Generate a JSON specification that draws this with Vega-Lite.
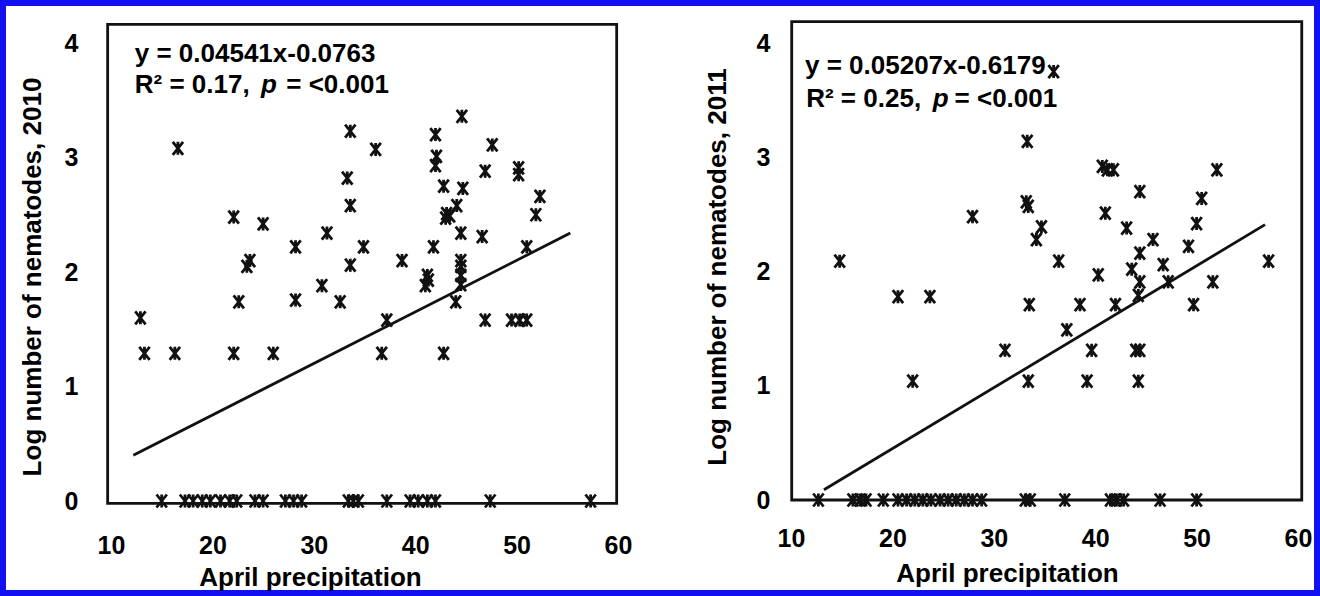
{
  "$schema": "https://vega.github.io/schema/vega-lite/v6.json",
  "width": 1320,
  "height": 596,
  "autosize": {"type": "none"},
  "padding": 0,
  "background": "white",
  "config": {
    "view": {"stroke": "#1010f0", "strokeWidth": 12},
    "font": "Liberation Sans",
    "axis": {
      "domain": false, "ticks": false, "grid": false,
      "labelFont": "Liberation Sans", "labelFontWeight": "bold", "labelFontSize": 25, "labelColor": "#000",
      "titleFont": "Liberation Sans", "titleFontWeight": "bold", "titleFontSize": 26, "titleColor": "#000",
      "labelOverlap": false, "labelFlush": false
    }
  },
  "datasets": {
    "p2010": [
      {"precip": 16.6, "lognem": 3.08}, {"precip": 33.6, "lognem": 3.23}, {"precip": 33.3, "lognem": 2.82}, {"precip": 33.6, "lognem": 2.58},
      {"precip": 22.1, "lognem": 2.48}, {"precip": 25.0, "lognem": 2.42}, {"precip": 31.3, "lognem": 2.34}, {"precip": 28.2, "lognem": 2.22},
      {"precip": 34.9, "lognem": 2.22}, {"precip": 23.7, "lognem": 2.10}, {"precip": 23.4, "lognem": 2.05}, {"precip": 33.6, "lognem": 2.06},
      {"precip": 30.8, "lognem": 1.88}, {"precip": 44.6, "lognem": 3.36}, {"precip": 42.0, "lognem": 3.20}, {"precip": 36.1, "lognem": 3.07},
      {"precip": 47.6, "lognem": 3.11}, {"precip": 42.1, "lognem": 3.01}, {"precip": 42.0, "lognem": 2.93}, {"precip": 46.9, "lognem": 2.88},
      {"precip": 50.2, "lognem": 2.91}, {"precip": 50.2, "lognem": 2.85}, {"precip": 42.8, "lognem": 2.75}, {"precip": 44.7, "lognem": 2.73},
      {"precip": 44.1, "lognem": 2.58}, {"precip": 43.1, "lognem": 2.51}, {"precip": 43.0, "lognem": 2.47}, {"precip": 43.4, "lognem": 2.49},
      {"precip": 52.3, "lognem": 2.66}, {"precip": 51.9, "lognem": 2.50}, {"precip": 44.5, "lognem": 2.34}, {"precip": 46.6, "lognem": 2.31},
      {"precip": 41.8, "lognem": 2.22}, {"precip": 51.0, "lognem": 2.22}, {"precip": 38.7, "lognem": 2.10}, {"precip": 44.5, "lognem": 2.10},
      {"precip": 44.5, "lognem": 2.05}, {"precip": 44.5, "lognem": 1.97}, {"precip": 41.2, "lognem": 1.97}, {"precip": 41.3, "lognem": 1.93},
      {"precip": 41.0, "lognem": 1.88}, {"precip": 12.9, "lognem": 1.60}, {"precip": 13.3, "lognem": 1.29}, {"precip": 16.3, "lognem": 1.29},
      {"precip": 22.6, "lognem": 1.74}, {"precip": 22.1, "lognem": 1.29}, {"precip": 26.0, "lognem": 1.29}, {"precip": 28.2, "lognem": 1.755},
      {"precip": 32.6, "lognem": 1.74}, {"precip": 44.5, "lognem": 1.89}, {"precip": 44.0, "lognem": 1.74}, {"precip": 37.2, "lognem": 1.58},
      {"precip": 46.9, "lognem": 1.58}, {"precip": 49.5, "lognem": 1.58}, {"precip": 50.3, "lognem": 1.58}, {"precip": 51.0, "lognem": 1.58},
      {"precip": 36.7, "lognem": 1.29}, {"precip": 42.8, "lognem": 1.29},
      {"precip": 15.0, "lognem": 0}, {"precip": 17.3, "lognem": 0}, {"precip": 18.1, "lognem": 0}, {"precip": 19.0, "lognem": 0},
      {"precip": 19.8, "lognem": 0}, {"precip": 20.8, "lognem": 0}, {"precip": 21.7, "lognem": 0}, {"precip": 22.4, "lognem": 0},
      {"precip": 24.2, "lognem": 0}, {"precip": 25.0, "lognem": 0}, {"precip": 27.2, "lognem": 0}, {"precip": 28.0, "lognem": 0},
      {"precip": 28.8, "lognem": 0}, {"precip": 33.4, "lognem": 0}, {"precip": 33.9, "lognem": 0}, {"precip": 34.4, "lognem": 0},
      {"precip": 37.2, "lognem": 0}, {"precip": 39.5, "lognem": 0}, {"precip": 40.3, "lognem": 0}, {"precip": 41.2, "lognem": 0},
      {"precip": 42.0, "lognem": 0}, {"precip": 47.4, "lognem": 0}, {"precip": 57.3, "lognem": 0}
    ],
    "p2011": [
      {"precip": 33.3, "lognem": 3.14}, {"precip": 35.9, "lognem": 3.75}, {"precip": 33.2, "lognem": 2.61}, {"precip": 33.4, "lognem": 2.57},
      {"precip": 34.7, "lognem": 2.39}, {"precip": 34.2, "lognem": 2.28}, {"precip": 27.9, "lognem": 2.48}, {"precip": 14.8, "lognem": 2.09},
      {"precip": 40.7, "lognem": 2.92}, {"precip": 41.2, "lognem": 2.89}, {"precip": 41.8, "lognem": 2.89}, {"precip": 52.0, "lognem": 2.89},
      {"precip": 44.4, "lognem": 2.70}, {"precip": 50.5, "lognem": 2.64}, {"precip": 41.0, "lognem": 2.51}, {"precip": 50.0, "lognem": 2.42},
      {"precip": 43.1, "lognem": 2.38}, {"precip": 45.7, "lognem": 2.28}, {"precip": 49.2, "lognem": 2.22}, {"precip": 44.4, "lognem": 2.16},
      {"precip": 36.4, "lognem": 2.09}, {"precip": 57.1, "lognem": 2.09}, {"precip": 40.3, "lognem": 1.97}, {"precip": 43.6, "lognem": 2.02},
      {"precip": 46.7, "lognem": 2.06}, {"precip": 44.4, "lognem": 1.91}, {"precip": 47.2, "lognem": 1.91}, {"precip": 51.6, "lognem": 1.91},
      {"precip": 20.55, "lognem": 1.78}, {"precip": 23.7, "lognem": 1.78}, {"precip": 33.5, "lognem": 1.71}, {"precip": 31.1, "lognem": 1.31},
      {"precip": 22.0, "lognem": 1.04}, {"precip": 33.4, "lognem": 1.04}, {"precip": 38.5, "lognem": 1.71}, {"precip": 42.0, "lognem": 1.71},
      {"precip": 44.25, "lognem": 1.79}, {"precip": 49.7, "lognem": 1.71}, {"precip": 37.2, "lognem": 1.49}, {"precip": 39.65, "lognem": 1.31},
      {"precip": 44.0, "lognem": 1.31}, {"precip": 44.4, "lognem": 1.31}, {"precip": 39.2, "lognem": 1.04}, {"precip": 44.25, "lognem": 1.04},
      {"precip": 12.7, "lognem": 0}, {"precip": 16.1, "lognem": 0}, {"precip": 16.8, "lognem": 0}, {"precip": 17.4, "lognem": 0},
      {"precip": 19.1, "lognem": 0}, {"precip": 20.55, "lognem": 0}, {"precip": 21.4, "lognem": 0}, {"precip": 22.2, "lognem": 0},
      {"precip": 23.0, "lognem": 0}, {"precip": 23.8, "lognem": 0}, {"precip": 24.7, "lognem": 0}, {"precip": 25.5, "lognem": 0},
      {"precip": 26.3, "lognem": 0}, {"precip": 27.1, "lognem": 0}, {"precip": 27.9, "lognem": 0}, {"precip": 28.8, "lognem": 0},
      {"precip": 33.1, "lognem": 0}, {"precip": 33.6, "lognem": 0}, {"precip": 37.0, "lognem": 0}, {"precip": 41.5, "lognem": 0},
      {"precip": 42.1, "lognem": 0}, {"precip": 42.8, "lognem": 0}, {"precip": 46.4, "lognem": 0}, {"precip": 50.0, "lognem": 0}
    ],
    "l2010": [{"precip": 12.2, "lognem": 0.40}, {"precip": 55.3, "lognem": 2.34}],
    "l2011": [{"precip": 13.25, "lognem": 0.09}, {"precip": 56.75, "lognem": 2.41}]
  },
  "layer": [
    {
      "layer": [
        {
          "data": {"name": "p2010"},
          "mark": {"type": "point", "shape": "M-0.8,-1L0.8,1M-0.8,1L0.8,-1M0,-1L0,1", "filled": false, "stroke": "#111", "strokeWidth": 2.8, "size": 169, "opacity": 1},
          "encoding": {
            "x": {"field": "precip", "type": "quantitative",
              "scale": {"domain": [10, 60], "range": [111, 618], "nice": false, "zero": false},
              "axis": {"orient": "bottom", "offset": -93, "values": [10, 20, 30, 40, 50, 60], "format": "d", "labelPadding": 30,
                "title": "April precipitation", "titleX": 310, "titleY": 82, "titleAngle": 0, "titleAlign": "center", "titleBaseline": "alphabetic"}},
            "y": {"field": "lognem", "type": "quantitative",
              "scale": {"domain": [0, 4], "range": [501, 43], "nice": false, "zero": false},
              "axis": {"orient": "left", "offset": -108, "values": [0, 1, 2, 3, 4], "format": "d", "labelPadding": 30,
                "title": "Log number of nematodes, 2010", "titleX": -75.5, "titleY": 276.5, "titleAngle": -90, "titleAlign": "center", "titleBaseline": "middle"}}
          }
        },
        {
          "data": {"name": "l2010"},
          "mark": {"type": "line", "stroke": "#111", "strokeWidth": 2.8},
          "encoding": {"x": {"field": "precip", "type": "quantitative"}, "y": {"field": "lognem", "type": "quantitative"}}
        },
        {
          "data": {"values": [{}]},
          "mark": {"type": "rect", "filled": false, "stroke": "#111", "strokeWidth": 2.8},
          "encoding": {"x": {"datum": 9.67}, "x2": {"datum": 59.87}, "y": {"datum": -0.02}, "y2": {"datum": 4.163}}
        },
        {
          "data": {"values": [{}]},
          "mark": {"type": "text", "text": "y = 0.04541x-0.0763", "align": "left", "baseline": "alphabetic", "fontSize": 26, "fontWeight": "bold", "font": "Liberation Sans", "color": "#000"},
          "encoding": {"x": {"datum": 12.34}, "y": {"datum": 3.834}}
        },
        {
          "data": {"values": [{}]},
          "mark": {"type": "text", "text": "R² = 0.17,", "align": "left", "baseline": "alphabetic", "fontSize": 26, "fontWeight": "bold", "font": "Liberation Sans", "color": "#000"},
          "encoding": {"x": {"datum": 12.34}, "y": {"datum": 3.563}}
        },
        {
          "data": {"values": [{}]},
          "mark": {"type": "text", "text": "p", "align": "left", "baseline": "alphabetic", "fontSize": 26, "fontWeight": "bold", "fontStyle": "italic", "font": "Liberation Sans", "color": "#000"},
          "encoding": {"x": {"datum": 24.8}, "y": {"datum": 3.563}}
        },
        {
          "data": {"values": [{}]},
          "mark": {"type": "text", "text": "= <0.001", "align": "left", "baseline": "alphabetic", "fontSize": 26, "fontWeight": "bold", "font": "Liberation Sans", "color": "#000"},
          "encoding": {"x": {"datum": 27.28}, "y": {"datum": 3.563}}
        }
      ]
    },
    {
      "layer": [
        {
          "data": {"name": "p2011"},
          "mark": {"type": "point", "shape": "M-0.8,-1L0.8,1M-0.8,1L0.8,-1M0,-1L0,1", "filled": false, "stroke": "#111", "strokeWidth": 2.8, "size": 169, "opacity": 1},
          "encoding": {
            "x": {"field": "precip", "type": "quantitative",
              "scale": {"domain": [10, 60], "range": [791, 1298], "nice": false, "zero": false},
              "axis": {"orient": "bottom", "offset": -96, "values": [10, 20, 30, 40, 50, 60], "format": "d", "labelPadding": 26,
                "title": "April precipitation", "titleX": 1007, "titleY": 81, "titleAngle": 0, "titleAlign": "center", "titleBaseline": "alphabetic"}},
            "y": {"field": "lognem", "type": "quantitative",
              "scale": {"domain": [0, 4], "range": [500, 43], "nice": false, "zero": false},
              "axis": {"orient": "left", "offset": -792, "values": [0, 1, 2, 3, 4], "format": "d", "labelPadding": 22,
                "title": "Log number of nematodes, 2011", "titleX": -75, "titleY": 266.5, "titleAngle": -90, "titleAlign": "center", "titleBaseline": "middle"}}
          }
        },
        {
          "data": {"name": "l2011"},
          "mark": {"type": "line", "stroke": "#111", "strokeWidth": 2.8},
          "encoding": {"x": {"field": "precip", "type": "quantitative"}, "y": {"field": "lognem", "type": "quantitative"}}
        },
        {
          "data": {"values": [{}]},
          "mark": {"type": "rect", "filled": false, "stroke": "#111", "strokeWidth": 2.8},
          "encoding": {"x": {"datum": 10.07}, "x2": {"datum": 60.37}, "y": {"datum": 0}, "y2": {"datum": 4.187}}
        },
        {
          "data": {"values": [{}]},
          "mark": {"type": "text", "text": "y = 0.05207x-0.6179", "align": "left", "baseline": "alphabetic", "fontSize": 26, "fontWeight": "bold", "font": "Liberation Sans", "color": "#000"},
          "encoding": {"x": {"datum": 11.38}, "y": {"datum": 3.729}}
        },
        {
          "data": {"values": [{}]},
          "mark": {"type": "text", "text": "R² = 0.25,", "align": "left", "baseline": "alphabetic", "fontSize": 26, "fontWeight": "bold", "font": "Liberation Sans", "color": "#000"},
          "encoding": {"x": {"datum": 11.5}, "y": {"datum": 3.44}}
        },
        {
          "data": {"values": [{}]},
          "mark": {"type": "text", "text": "p", "align": "left", "baseline": "alphabetic", "fontSize": 26, "fontWeight": "bold", "fontStyle": "italic", "font": "Liberation Sans", "color": "#000"},
          "encoding": {"x": {"datum": 23.97}, "y": {"datum": 3.44}}
        },
        {
          "data": {"values": [{}]},
          "mark": {"type": "text", "text": "= <0.001", "align": "left", "baseline": "alphabetic", "fontSize": 26, "fontWeight": "bold", "font": "Liberation Sans", "color": "#000"},
          "encoding": {"x": {"datum": 26.13}, "y": {"datum": 3.44}}
        }
      ]
    }
  ],
  "resolve": {"scale": {"x": "independent", "y": "independent"}, "axis": {"x": "independent", "y": "independent"}}
}
